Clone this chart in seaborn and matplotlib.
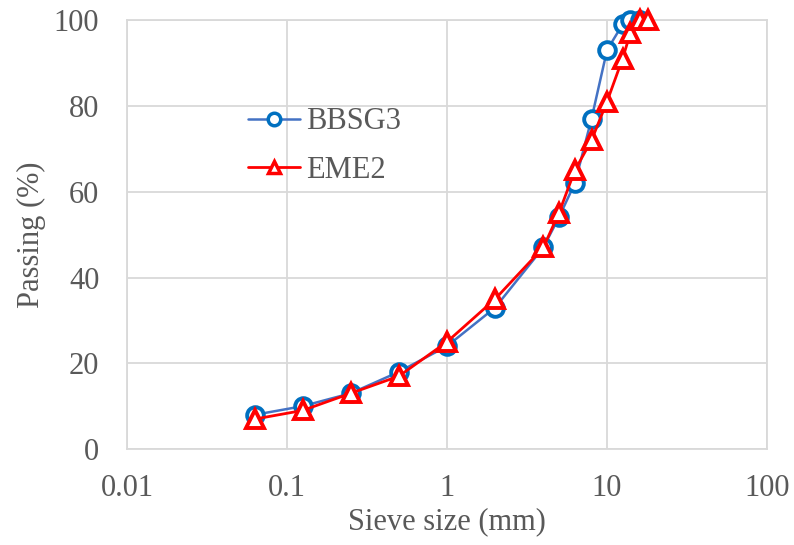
import pandas as pd
import matplotlib
matplotlib.use("Agg")
import matplotlib.pyplot as plt
import seaborn as sns

# sieve sizes (mm) and percent passing
bbsg3_sieve = [0.063, 0.125, 0.25, 0.5, 1, 2, 4, 5, 6.3, 8, 10, 12.5, 14, 16]
bbsg3_pass = [8, 10, 13, 18, 24, 33, 47, 54, 62, 77, 93, 99, 100, 100]

eme2_sieve = [0.063, 0.125, 0.25, 0.5, 1, 2, 4, 5, 6.3, 8, 10, 12.5, 14, 16, 18]
eme2_pass = [7, 9, 13, 17, 25, 35, 47, 55, 65, 72, 81, 91, 97, 100, 100]

x_ticks = [0.01, 0.1, 1, 10, 100]
x_ticklabels = ["0.01", "0.1", "1", "10", "100"]
y_ticks = [0, 20, 40, 60, 80, 100]

df_b = pd.DataFrame({"sieve": bbsg3_sieve, "passing": bbsg3_pass})
df_e = pd.DataFrame({"sieve": eme2_sieve, "passing": eme2_pass})

sns.set_style("white")
plt.rcParams["font.family"] = ["Liberation Serif", "DejaVu Serif"]
txt = "#595959"
grid_c = "#D9D9D9"
fs = 22

fig = plt.figure(figsize=(7.94, 5.45), dpi=100)
ax = fig.add_axes([0.160, 0.176, 0.806, 0.787])

sns.lineplot(data=df_b, x="sieve", y="passing", ax=ax, color="#4472C4",
             linewidth=1.8, marker="o", markersize=12, markerfacecolor="white",
             markeredgecolor="#0070C0", markeredgewidth=2.8, label="BBSG3",
             clip_on=False, zorder=3)
sns.lineplot(data=df_e, x="sieve", y="passing", ax=ax, color="#FF0000",
             linewidth=2, marker="^", markersize=13, markerfacecolor="white",
             markeredgecolor="#FF0000", markeredgewidth=2.8, label="EME2",
             clip_on=False, zorder=4)

ax.set_xscale("log")
ax.set_xlim(0.01, 100)
ax.set_ylim(0, 100)
ax.set_xticks(x_ticks)
ax.set_xticklabels(x_ticklabels)
ax.minorticks_off()
ax.set_yticks(y_ticks)
ax.grid(True, color=grid_c, linewidth=1.3)
ax.set_axisbelow(True)
for s in ax.spines.values():
    s.set_color(grid_c)
    s.set_linewidth(1.3)
ax.tick_params(length=0, labelsize=fs, labelcolor=txt)
ax.tick_params(axis="x", pad=18)
ax.tick_params(axis="y", pad=20)

ax.set_xlabel("Sieve size (mm)", fontsize=fs, color=txt, va="center")
ax.set_ylabel("Passing (%)", fontsize=fs, color=txt, va="center")
ax.xaxis.set_label_coords(0.5, -0.170)
ax.yaxis.set_label_coords(-0.150, 0.5)

leg = ax.legend(loc="upper left", bbox_to_anchor=(0.189, 0.797), frameon=False,
                fontsize=fs, labelcolor=txt, handlelength=1.7, labelspacing=0.65,
                handletextpad=0.2, borderpad=0, borderaxespad=0)
for h in leg.legend_handles:
    h.set_markersize(9)
    h.set_markeredgewidth(2.5)

fig.savefig("out.png", dpi=100)
